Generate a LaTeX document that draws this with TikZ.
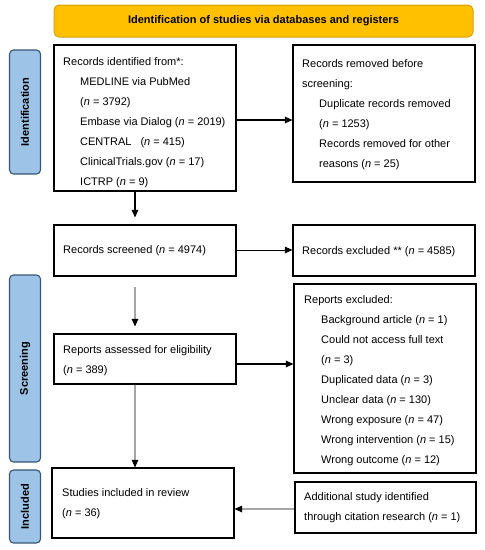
\documentclass[tikz,border=0pt]{standalone}
\usepackage{fontspec}
\setmainfont{Liberation Sans}
\usetikzlibrary{arrows.meta}
\definecolor{bannerfill}{HTML}{FFC000}
\definecolor{bannerdraw}{HTML}{D9A300}
\definecolor{sidefill}{HTML}{9DC3E6}
\definecolor{sidedraw}{HTML}{3B5775}
\definecolor{arrgray}{HTML}{A6A6A6}
\tikzset{
  box/.style={draw=black, line width=1.1pt, fill=white, inner sep=0pt, rectangle},
  txt/.style={anchor=north west, align=left, inner sep=0pt, font=\fontsize{11}{20}\selectfont},
  side/.style={draw=sidedraw, fill=sidefill, line width=1.1pt, rounded corners=4pt, inner sep=0pt, minimum width=31pt},
  sidetxt/.style={rotate=90, font=\fontsize{11}{13}\selectfont\bfseries, inner sep=0pt},
  tip/.style={-{Triangle[length=7.5pt,width=6.5pt,color=black]}},
  thick arr/.style={tip, line width=1.3pt, draw=black},
  thin arr/.style={tip, line width=0.8pt, draw=black},
  gray arr/.style={tip, line width=1.1pt, draw=arrgray},
}
\newcommand{\ind}{\hspace*{17pt}}
\begin{document}
\begin{tikzpicture}[x=1pt,y=-1pt]
\useasboundingbox (0,0) rectangle (485,550);
% banner
\node[draw=bannerdraw, fill=bannerfill, line width=1pt, rounded corners=5pt, minimum width=419pt, minimum height=32pt, inner sep=0pt, font=\fontsize{11}{13}\selectfont\bfseries] (banner) at (263.5,21) {Identification of studies via databases and registers};
% side labels
\node[side, minimum height=124pt] (sid) at (25,112) {};
\node[sidetxt] (sidt) at (sid.center) {Identification};
\node[side, minimum height=187pt] (sscr) at (25,368.5) {};
\node[sidetxt] (sscrt) at (sscr.center) {Screening};
\node[side, minimum height=73pt] (sinc) at (25,506.5) {};
\node[sidetxt] (sinct) at (sinc.center) {Included};
% boxes
\node[box, minimum width=182pt, minimum height=146pt] (b1) at (145,118) {};
\node[txt] (t1) at (63,57.8) {Records identified from*:\\
\ind MEDLINE via PubMed\\
\ind (\textit{n} = 3792)\\
\ind Embase via Dialog (\textit{n} = 2019)\\
\ind CENTRAL\hspace{9pt}(\textit{n} = 415)\\
\ind ClinicalTrials.gov (\textit{n} = 17)\\
\ind ICTRP (\textit{n} = 9)};
\node[box, minimum width=182pt, minimum height=137pt] (b2) at (384,113.5) {};
\node[txt] (t2) at (302,59.8) {Records removed before\\
screening:\\
\ind Duplicate records removed\\
\ind (\textit{n} = 1253)\\
\ind Records removed for other\\
\ind reasons (\textit{n} = 25)};
\node[box, minimum width=182pt, minimum height=51pt] (b3) at (145,250.5) {};
\node[txt] (t3) at (63,245.8) {Records screened (\textit{n} = 4974)};
\node[box, minimum width=182pt, minimum height=51pt] (b4) at (384,250.5) {};
\node[txt] (t4) at (302,246.8) {Records excluded ** (\textit{n} = 4585)};
\node[box, minimum width=182pt, minimum height=50pt] (b5) at (145,359) {};
\node[txt] (t5) at (63,345.8) {Reports assessed for eligibility\\(\textit{n} = 389)};
\node[box, minimum width=182pt, minimum height=189pt] (b6) at (385,378.5) {};
\node[txt] (t6) at (304,295.8) {Reports excluded:\\
\ind Background article (\textit{n} = 1)\\
\ind Could not access full text\\
\ind (\textit{n} = 3)\\
\ind Duplicated data (\textit{n} = 3)\\
\ind Unclear data (\textit{n} = 130)\\
\ind Wrong exposure (\textit{n} = 47)\\
\ind Wrong intervention (\textit{n} = 15)\\
\ind Wrong outcome (\textit{n} = 12)};
\node[box, minimum width=182pt, minimum height=70pt] (b7) at (143,503) {};
\node[txt] (t7) at (62,488.8) {Studies included in review\\(\textit{n} = 36)};
\node[box, minimum width=181pt, minimum height=51pt] (b8) at (385.5,507.5) {};
\node[txt] (t8) at (304,492.8) {Additional study identified\\through citation research (\textit{n} = 1)};
% connectors
\draw[thick arr] (b1.east |- 0,120) -- (b2.west |- 0,120);
\draw[thick arr, shorten >=7pt] (b1.south -| 135,0) -- (b3.north -| 135,0);
\draw[thin arr] (b3.east |- 0,250) -- (b4.west |- 0,250);
\draw[gray arr, shorten <=10pt, shorten >=7pt] (b3.south -| 135,0) -- (b5.north -| 135,0);
\draw[thick arr] (b5.east |- 0,364) -- (b6.west |- 0,364);
\draw[gray arr] (b5.south -| 135,0) -- (b7.north -| 135,0);
\draw[gray arr] (b8.west |- 0,509) -- (b7.east |- 0,509);
\end{tikzpicture}
\end{document}
